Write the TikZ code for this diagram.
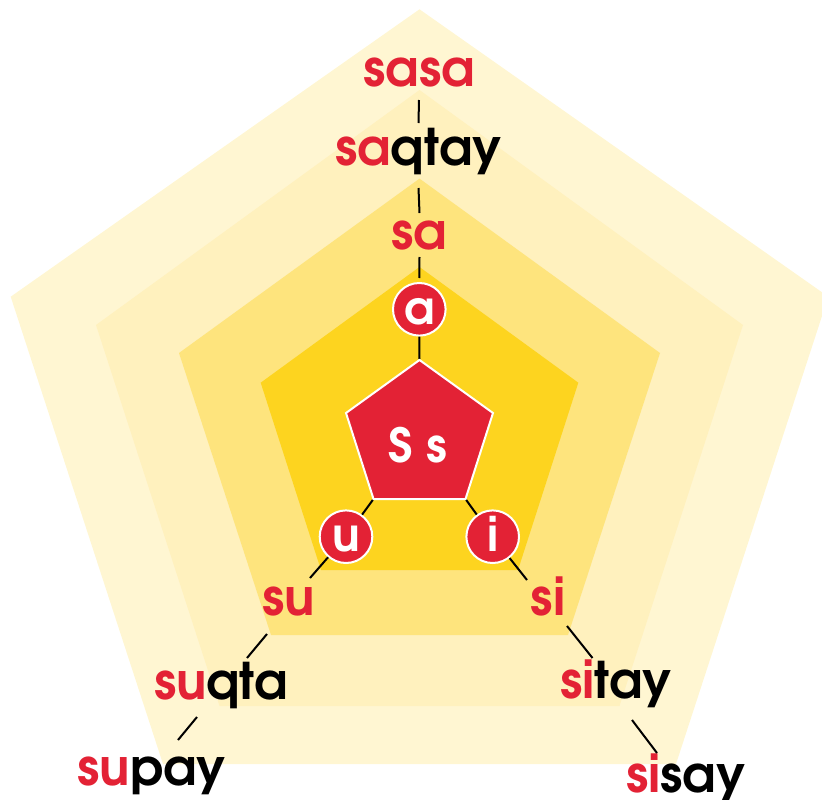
\documentclass[tikz,border=0pt]{standalone}
\usepackage{fontspec}
\newfontfamily\adv{texgyreadventor}[Extension=.otf, UprightFont=*-regular, BoldFont=*-bold]
\definecolor{bandA}{HTML}{FFF6D2}
\definecolor{bandB}{HTML}{FFF1BE}
\definecolor{bandC}{HTML}{FEE47D}
\definecolor{bandD}{HTML}{FDD41F}
\definecolor{myred}{HTML}{E32235}
\newcommand{\rd}[1]{\textcolor{myred}{#1}}
\newcommand{\bk}[1]{\textcolor{black}{#1}}
\begin{document}
\begin{tikzpicture}[x=1pt,y=-1pt,
  lbl/.style={font=\adv\bfseries\fontsize{50.5}{50.5}\selectfont, text=myred, inner sep=0pt, anchor=base, text height=28pt, text depth=8pt},
  letter/.style={circle, fill=myred, draw=white, line width=2pt, minimum size=52.6pt, inner sep=0pt, text=white, font=\adv\bfseries\fontsize{46}{46}\selectfont, text height=30pt, text depth=0pt},
  sslbl/.style={text=white, font=\adv\bfseries\fontsize{47}{47}\selectfont, inner sep=0pt, anchor=base},
  link/.style={draw=black, line width=2pt},
  redpent/.style={fill=myred, draw=white, line width=2pt, line join=miter}]
\clip (0,0) rectangle (822,800);
\useasboundingbox (0,0) rectangle (822,800);
% bands
\fill[bandA] (419.5,9.3) -- (10.7,296.7) -- (163,764) -- (676,764) -- (828.3,296.7) -- cycle;
\fill[bandB] (419.5,90) -- (96,325) -- (219.5,706) -- (619.5,706) -- (743,325) -- cycle;
\fill[bandC] (419.5,178.6) -- (179,353) -- (271,635) -- (568,635) -- (660,353) -- cycle;
\fill[bandD] (419.5,267) -- (260.7,382.7) -- (321,570) -- (518,570) -- (578.3,382.7) -- cycle;
% central pentagon
\coordinate (p1) at (419.5,360);
\coordinate (p2) at (346,413);
\coordinate (p3) at (373.5,499);
\coordinate (p4) at (465.5,499);
\coordinate (p5) at (493,413);
% circles
\node[letter] (a) at (419.3,309.3) {a};
\node[letter] (u) at (346,536.7) {u};
\node[letter] (i) at (492.7,536.7) {i};
% labels
\node[lbl] (sasa) at (419,86) {sasa};
\node[lbl] (saqtay) at (418.5,165) {\rd{sa}\bk{qtay}};
\node[lbl] (sa) at (419.5,249) {sa};
\node[lbl] (su) at (289,615) {su};
\node[lbl] (suqta) at (221,699) {\rd{su}\bk{qta}};
\node[lbl] (supay) at (152,785) {\rd{su}\bk{pay}};
\node[lbl] (si) at (548,615) {si};
\node[lbl] (sitay) at (616,698) {\rd{si}\bk{tay}};
\node[lbl] (sisay) at (686,792) {\rd{si}\bk{say}};
% connectors
\draw[link] ([shift={(0,14)}]sasa.base) -- ([shift={(0,-42)}]saqtay.base);
\draw[link] ([shift={(0,23)}]saqtay.base) -- ([shift={(0,-36)}]sa.base);
\draw[link] ([shift={(0,8)}]sa.base) -- ([shift={(0,-4)}]a.north);
\draw[link, shorten >=1pt] (a) -- (p1);
\draw[link, shorten <=1pt] (p3) -- (u);
\draw[link, shorten <=1pt] (p4) -- (i);
\draw[link] (u) -- ([shift={(21,-37)}]su.base);
\draw[link] (i) -- ([shift={(-21,-35)}]si.base);
\draw[link] ([shift={(-22,19)}]su.base) -- ([shift={(26,-41)}]suqta.base);
\draw[link] ([shift={(-24,18)}]suqta.base) -- ([shift={(26,-45)}]supay.base);
\draw[link] ([shift={(19,11)}]si.base) -- ([shift={(-23.5,-40)}]sitay.base);
\draw[link] ([shift={(16,22)}]sitay.base) -- ([shift={(-29,-39)}]sisay.base);
% central pentagon with its letters
\draw[redpent] (p1) -- (p2) -- (p3) -- (p4) -- (p5) -- cycle;
\node[sslbl] (ss) at (418,462) {S\hspace{0.3em}s};
\end{tikzpicture}
\end{document}
